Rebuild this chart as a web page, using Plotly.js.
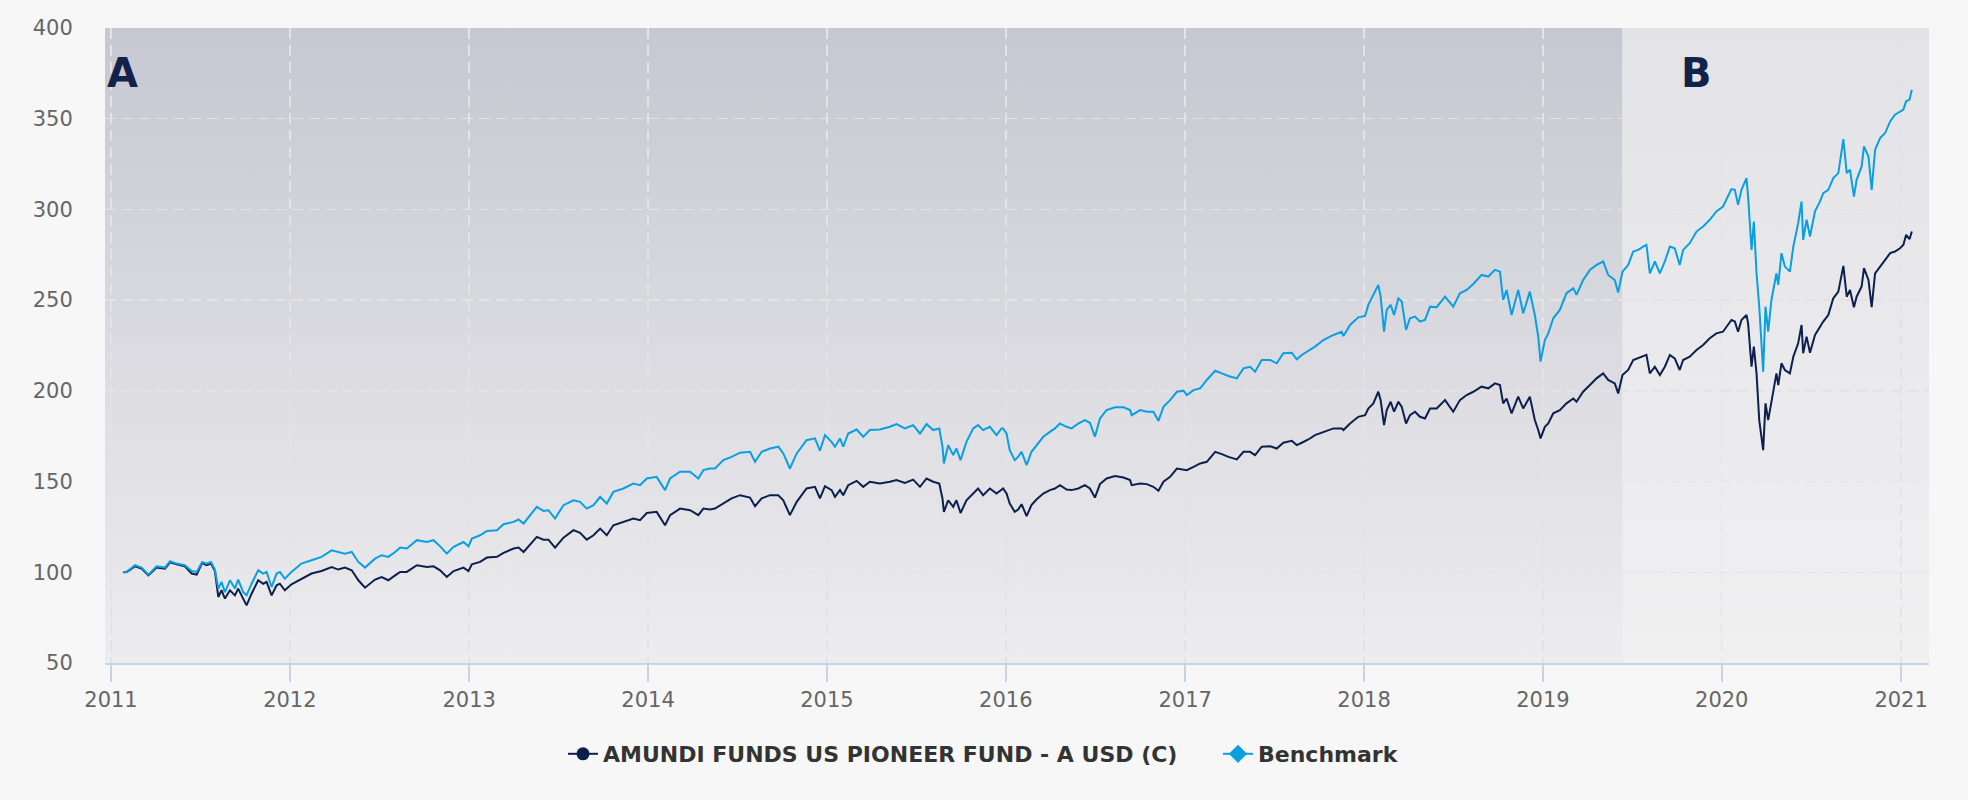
<!DOCTYPE html>
<html>
<head>
<meta charset="utf-8">
<script src="https://cdn.plot.ly/plotly-3.0.1.min.js"></script>
<style>
  html, body { margin: 0; padding: 0; background: #f7f7f7; }
  #chart { width: 1968px; height: 800px; }
</style>
</head>
<body>
<div id="chart"></div>
<script>
// ---- Data (dates as decimal years) ----
const seriesNames = ["AMUNDI FUNDS US PIONEER FUND - A USD (C)", "Benchmark"];
const yTicks = [50, 100, 150, 200, 250, 300, 350, 400];
const periodLabels = ["A", "B"];
const periodBoundary = 2019.445;

const years = [
  2011.069, 2011.088, 2011.134, 2011.171, 2011.209, 2011.255, 2011.302, 2011.330, 2011.367, 2011.413,
  2011.451, 2011.479, 2011.510, 2011.534, 2011.559, 2011.581, 2011.600, 2011.618, 2011.637, 2011.665,
  2011.693, 2011.711, 2011.739, 2011.758, 2011.786, 2011.823, 2011.851, 2011.870, 2011.898, 2011.926,
  2011.944, 2011.972, 2012.009, 2012.065, 2012.121, 2012.177, 2012.233, 2012.270, 2012.307, 2012.345,
  2012.382, 2012.419, 2012.456, 2012.475, 2012.512, 2012.549, 2012.587,
  2012.615, 2012.652, 2012.708, 2012.764, 2012.801, 2012.838, 2012.875, 2012.913, 2012.968, 2012.996,
  2013.015, 2013.061, 2013.099, 2013.155, 2013.192, 2013.248, 2013.276, 2013.304, 2013.341, 2013.378,
  2013.415, 2013.443, 2013.480, 2013.527, 2013.583, 2013.620, 2013.657, 2013.695, 2013.732, 2013.769,
  2013.806, 2013.862, 2013.918, 2013.955, 2013.993, 2014.048, 2014.095, 2014.123, 2014.179, 2014.235,
  2014.281, 2014.309, 2014.346,
  2014.374, 2014.421, 2014.467, 2014.514, 2014.570, 2014.598, 2014.635, 2014.682, 2014.728, 2014.756,
  2014.793, 2014.831, 2014.886, 2014.933, 2014.961, 2014.989, 2015.026, 2015.045, 2015.073, 2015.091,
  2015.119, 2015.166, 2015.203, 2015.240, 2015.296, 2015.352, 2015.389, 2015.436, 2015.482, 2015.520,
  2015.557, 2015.594, 2015.628, 2015.646, 2015.654, 2015.678, 2015.706, 2015.724, 2015.747, 2015.780,
  2015.818, 2015.845, 2015.873, 2015.911, 2015.948, 2015.976,
  2015.985, 2016.004, 2016.022, 2016.050, 2016.069, 2016.088, 2016.116, 2016.143, 2016.171, 2016.209,
  2016.246, 2016.274, 2016.302, 2016.339, 2016.367, 2016.404, 2016.441, 2016.469, 2016.497, 2016.525,
  2016.562, 2016.609, 2016.656, 2016.693, 2016.702, 2016.749, 2016.786, 2016.823, 2016.851, 2016.879,
  2016.916, 2016.954, 2016.991, 2017.009, 2017.047, 2017.084, 2017.121, 2017.168, 2017.205, 2017.242,
  2017.289, 2017.326, 2017.363, 2017.391, 2017.428, 2017.475, 2017.512, 2017.549, 2017.596, 2017.624,
  2017.652, 2017.689,
  2017.726, 2017.773, 2017.829, 2017.875, 2017.885, 2017.922, 2017.968, 2018.006, 2018.024, 2018.052,
  2018.080, 2018.093, 2018.112, 2018.127, 2018.149, 2018.168, 2018.192, 2018.211, 2018.235, 2018.257,
  2018.285, 2018.313, 2018.341, 2018.369, 2018.406, 2018.453, 2018.499, 2018.536, 2018.574, 2018.611,
  2018.657, 2018.695, 2018.732, 2018.760, 2018.778, 2018.797, 2018.825, 2018.862, 2018.890, 2018.927,
  2018.955, 2018.974, 2018.987, 2019.011, 2019.030, 2019.058, 2019.095, 2019.132, 2019.170, 2019.188,
  2019.225, 2019.263, 2019.300, 2019.337, 2019.365,
  2019.402, 2019.421, 2019.445, 2019.477, 2019.505, 2019.533, 2019.561, 2019.579, 2019.598, 2019.626,
  2019.654, 2019.682, 2019.710, 2019.737, 2019.765, 2019.784, 2019.821, 2019.859, 2019.896, 2019.933,
  2019.970, 2020.007, 2020.054, 2020.073, 2020.091, 2020.110, 2020.138, 2020.147, 2020.166, 2020.179,
  2020.194, 2020.209, 2020.231, 2020.244, 2020.259, 2020.277, 2020.305, 2020.315, 2020.333, 2020.352,
  2020.380, 2020.399, 2020.426, 2020.445, 2020.454, 2020.473, 2020.492, 2020.520, 2020.548, 2020.566,
  2020.594, 2020.622, 2020.650, 2020.678, 2020.697, 2020.715, 2020.737, 2020.752, 2020.780, 2020.793,
  2020.818, 2020.836, 2020.855, 2020.883, 2020.911, 2020.939, 2020.966, 2020.994, 2021.013, 2021.028,
  2021.047, 2021.060
];

const fundValues = [
  100.0, 100.2, 103.3, 102.0, 98.3, 102.6, 102.0, 105.5, 104.4, 103.3,
  99.3, 98.7, 105.2, 103.9, 104.8, 100.7, 86.4, 90.1, 85.5, 90.1,
  87.3, 91.0, 85.5, 81.8, 88.2, 95.6, 93.7, 94.7, 87.3, 92.8,
  93.7, 90.1, 93.4, 96.5, 99.3, 100.7, 102.9, 101.5, 102.6, 101.1,
  95.6, 91.5, 94.7, 96.0, 97.4, 95.6, 98.3,
  100.2, 100.2, 103.9, 102.9, 103.3, 101.1, 97.4, 100.7, 102.6, 100.7,
  104.4, 105.7, 108.1, 108.5, 110.7, 113.1, 113.6, 111.2, 115.5, 119.5,
  118.0, 118.0, 113.6, 119.1, 123.2, 121.7, 118.0, 120.4, 124.1, 120.4,
  125.9, 127.8, 129.6, 128.7, 132.7, 133.3, 125.9, 131.5, 135.1, 134.2,
  131.5, 135.1, 134.6,
  135.1, 137.9, 140.7, 142.5, 141.2, 136.4, 140.7, 142.5, 142.5, 139.7,
  131.5, 138.8, 146.2, 147.1, 140.7, 147.5, 145.3, 141.6, 145.3, 142.5,
  148.0, 150.4, 147.1, 149.9, 148.9, 149.9, 150.8, 149.3, 151.1, 147.1,
  151.7, 149.9, 148.9, 140.7, 133.3, 139.7, 136.1, 139.7, 132.7, 139.7,
  143.4, 146.2, 142.5, 146.2, 143.4, 145.3,
  146.2, 143.4, 137.9, 133.3, 134.6, 137.5, 130.9, 137.0, 140.1, 143.4,
  145.3, 146.2, 148.0, 145.6, 145.3, 146.2, 148.0, 146.2, 141.2, 148.6,
  151.7, 153.0, 152.2, 150.8, 148.0, 148.9, 148.6, 147.1, 144.9, 149.9,
  152.6, 157.2, 156.7, 156.3, 158.1, 160.0, 160.9, 166.4, 165.1, 163.6,
  162.2, 166.4, 166.4, 164.6, 169.2, 169.5, 168.2, 171.4, 172.5, 170.1,
  171.4, 173.2,
  175.6, 177.4, 179.3, 179.3, 178.4, 182.0, 185.7, 186.6, 190.3, 193.1,
  199.5, 194.9, 181.1, 189.4, 194.0, 188.5, 194.0, 191.2, 182.0, 186.6,
  188.5, 185.7, 184.8, 190.3, 190.3, 194.9, 188.5, 194.9, 197.7, 199.5,
  202.3, 201.4, 204.1, 203.2, 193.1, 195.8, 187.6, 196.8, 190.3, 196.8,
  183.9, 178.4, 173.8, 180.2, 182.0, 187.6, 189.4, 193.1, 195.8, 194.0,
  199.5, 203.2, 206.9, 209.6, 206.0,
  204.1, 198.6, 208.7, 211.5, 217.0, 217.9, 218.8, 219.8, 209.6, 213.3,
  208.7, 213.3, 219.8, 217.9, 211.5, 217.0, 218.8, 222.5, 225.3, 229.0,
  231.7, 232.6, 239.1, 238.2, 232.6, 239.1, 241.8, 237.2, 213.3, 224.4,
  209.6, 183.9, 167.3, 193.1, 183.9, 194.9, 209.6, 203.2, 215.2, 211.5,
  209.6, 218.8, 226.2, 236.3, 220.7, 229.9, 221.0, 230.8, 235.4, 238.2,
  241.8, 251.0, 254.7, 268.9, 251.9, 255.6, 246.1, 251.9, 257.5, 267.6,
  261.1, 246.1, 264.8, 268.5, 272.2, 275.9, 276.8, 278.6, 280.5, 286.0,
  283.6, 287.8
];

const benchValues = [
  100.0, 100.2, 103.9, 102.6, 98.7, 103.3, 102.6, 106.1, 104.8, 103.9,
  100.7, 100.2, 105.7, 104.8, 105.7, 101.5, 91.0, 94.7, 89.1, 95.6,
  91.0, 96.0, 89.1, 87.3, 93.7, 101.1, 99.3, 100.2, 91.9, 99.3,
  100.2, 96.5, 100.2, 104.8, 106.6, 108.5, 112.1, 111.2, 110.3, 111.2,
  105.7, 102.6, 105.7, 107.5, 109.4, 108.5, 111.2,
  113.6, 113.1, 117.7, 116.7, 117.7, 114.3, 110.3, 114.0, 116.7, 114.3,
  118.6, 120.4, 122.8, 123.2, 126.5, 127.8, 129.1, 126.9, 131.5, 136.1,
  133.8, 134.2, 129.6, 137.0, 139.7, 138.8, 135.1, 137.0, 141.6, 137.9,
  144.3, 146.2, 148.9, 148.0, 151.7, 152.6, 145.3, 151.7, 155.4, 155.4,
  151.7, 156.3, 157.2,
  157.2, 161.8, 163.6, 165.9, 166.4, 160.9, 166.4, 168.2, 169.2, 165.5,
  157.2, 165.5, 172.8, 173.8, 167.0, 175.6, 171.9, 169.2, 173.8, 169.2,
  176.5, 178.7, 174.7, 178.4, 178.7, 180.2, 181.7, 179.3, 181.1, 176.5,
  181.7, 178.4, 179.3, 169.2, 160.0, 170.1, 164.6, 168.2, 161.8, 171.9,
  179.3, 181.1, 178.4, 180.2, 175.6, 179.3,
  179.3, 176.5, 167.3, 161.8, 163.7, 166.4, 159.1, 166.4, 170.1, 174.7,
  177.4, 179.3, 182.0, 180.2, 179.3, 182.0, 183.9, 182.4, 174.7, 184.8,
  189.4, 190.9, 190.9, 189.4, 186.6, 189.4, 188.5, 188.5, 183.5, 191.2,
  194.9, 199.5, 200.1, 197.7, 200.4, 201.4, 206.0, 211.1, 209.6, 208.2,
  206.9, 212.4, 213.3, 210.6, 217.0, 217.0, 215.2, 220.7, 221.0, 217.4,
  219.8, 222.1,
  224.4, 228.0, 230.8, 232.6, 230.2, 236.3, 240.5, 241.3, 247.4, 252.9,
  258.4, 251.9, 232.6, 244.6, 247.4, 241.8, 251.0, 249.2, 233.6, 240.0,
  240.9, 238.2, 239.1, 246.4, 246.1, 252.0, 246.4, 253.8, 255.6, 258.9,
  263.9, 263.0, 266.7, 265.7, 250.1, 255.6, 241.8, 255.6, 242.8, 254.7,
  241.8, 229.9, 216.1, 228.0, 231.7, 240.0, 244.6, 253.8, 256.5, 252.9,
  261.1, 266.7, 269.4, 271.3, 263.9,
  261.1, 254.2, 265.7, 269.4, 276.8, 277.7, 279.5, 280.5, 264.8, 271.3,
  264.8, 271.3, 279.5, 278.6, 269.4, 277.7, 281.4, 287.8, 290.6, 294.3,
  298.9, 301.6, 311.2, 310.8, 302.5, 310.8, 317.3, 307.1, 277.7, 293.3,
  264.8, 246.4, 210.6, 246.4, 232.6, 250.1, 264.8, 258.4, 275.9, 268.5,
  265.7, 279.5, 292.4, 304.4, 283.2, 294.3, 285.1, 298.9, 304.4, 309.0,
  310.8, 317.3, 320.0, 338.8, 320.0, 321.9, 307.1, 316.3, 323.7, 334.8,
  329.2, 310.8, 332.9, 339.3, 342.1, 348.5, 352.2, 354.0, 355.0, 359.6,
  360.5, 366.0
];

// ---- helpers ----
function toDate(t) {
  const y = Math.floor(t);
  const start = Date.UTC(y, 0, 1), end = Date.UTC(y + 1, 0, 1);
  return new Date(start + (t - y) * (end - start)).toISOString().slice(0, 19).replace('T', ' ');
}
const dates = years.map(toDate);

const navy = '#0d1f4d';
const sky = '#0a9fe0';

const xStart = 2010.9665, xEnd = 2021.156;
const ms = s => new Date(s.replace(' ', 'T') + 'Z').getTime();
const frac = (ms(toDate(periodBoundary)) - ms(toDate(xStart))) / (ms(toDate(xEnd)) - ms(toDate(xStart)));
const wA = (frac * 1000).toFixed(2);

const svg = "<svg xmlns='http://www.w3.org/2000/svg' width='1000' height='1000' viewBox='0 0 1000 1000' preserveAspectRatio='none'>" +
  "<defs><linearGradient id='a' x1='0' y1='0' x2='0' y2='1'><stop offset='0' stop-color='#c7c7d1'/><stop offset='1' stop-color='#ededef'/></linearGradient>" +
  "<linearGradient id='b' x1='0' y1='0' x2='0' y2='1'><stop offset='0' stop-color='#e3e3e7'/><stop offset='1' stop-color='#f0f0f1'/></linearGradient></defs>" +
  "<rect x='0' y='0' width='" + wA + "' height='1000' fill='url(#a)'/>" +
  "<rect x='" + wA + "' y='0' width='" + (1000 - wA).toFixed(2) + "' height='1000' fill='url(#b)'/></svg>";
const bgSource = 'data:image/svg+xml;charset=utf-8,' + encodeURIComponent(svg);

const tickFont = { family: 'DejaVu Sans, sans-serif', size: 21, color: '#666666' };
const gridColor = '#e3e3e6';
const legendFont = { family: 'DejaVu Sans, sans-serif', size: 22, weight: 'bold', color: '#333333' };

const traces = [
  { x: dates, y: fundValues, mode: 'lines', line: { color: navy, width: 2 }, showlegend: false, hoverinfo: 'skip' },
  { x: dates, y: benchValues, mode: 'lines', line: { color: sky, width: 2 }, showlegend: false, hoverinfo: 'skip' },
  { x: [null], y: [null], mode: 'lines+markers', name: seriesNames[0], legend: 'legend', line: { color: navy, width: 2 },
    marker: { symbol: 'circle', size: 13, color: navy } },
  { x: [null], y: [null], mode: 'lines+markers', name: seriesNames[1], legend: 'legend2', line: { color: sky, width: 2 },
    marker: { symbol: 'diamond', size: 14, color: sky } }
];

const layout = {
  width: 1968, height: 800,
  paper_bgcolor: '#f7f7f7',
  plot_bgcolor: '#e8e8ec',
  margin: { l: 105, r: 39, t: 28, b: 137 },
  hovermode: false,
  xaxis: {
    type: 'date',
    range: [toDate(xStart), toDate(xEnd)],
    tick0: '2011-01-01', dtick: 'M12', tickformat: '%Y',
    showgrid: true, gridcolor: gridColor, gridwidth: 1.5, griddash: '11px,6px',
    showline: true, linecolor: '#c6d4ea', linewidth: 2,
    ticks: 'outside', ticklen: 17, tickwidth: 2, tickcolor: '#c6d4ea',
    tickfont: tickFont, zeroline: false
  },
  yaxis: {
    range: [50, 400], tickvals: yTicks,
    showgrid: true, gridcolor: gridColor, gridwidth: 1.5, griddash: '11px,6px',
    showline: false, zeroline: false,
    ticks: 'outside', ticklen: 27, tickcolor: 'rgba(0,0,0,0)',
    tickfont: tickFont
  },
  images: [{
    source: bgSource, xref: 'paper', yref: 'paper', x: 0, y: 1, sizex: 1, sizey: 1,
    xanchor: 'left', yanchor: 'top', sizing: 'stretch', layer: 'below'
  }],
  annotations: [
    { text: periodLabels[0], xref: 'paper', x: 0, xanchor: 'left', yref: 'y', y: 375, yanchor: 'middle',
      showarrow: false, font: { family: 'DejaVu Sans, sans-serif', size: 40, weight: 'bold', color: '#13224a' } },
    { text: periodLabels[1], xref: 'x', x: toDate(2019.86), xanchor: 'center', yref: 'y', y: 375, yanchor: 'middle',
      showarrow: false, font: { family: 'DejaVu Sans, sans-serif', size: 40, weight: 'bold', color: '#13224a' } }
  ],
  showlegend: true,
  legend: {
    orientation: 'h', xref: 'container', yref: 'container', x: 563 / 1968, xanchor: 'left', y: 0.0575, yanchor: 'middle',
    font: legendFont, bgcolor: 'rgba(0,0,0,0)', itemclick: false, itemdoubleclick: false
  },
  legend2: {
    orientation: 'h', xref: 'container', yref: 'container', x: 1218 / 1968, xanchor: 'left', y: 0.0575, yanchor: 'middle',
    font: legendFont, bgcolor: 'rgba(0,0,0,0)', itemclick: false, itemdoubleclick: false
  }
};

Plotly.newPlot('chart', traces, layout, { displayModeBar: false, staticPlot: true });
</script>
</body>
</html>
